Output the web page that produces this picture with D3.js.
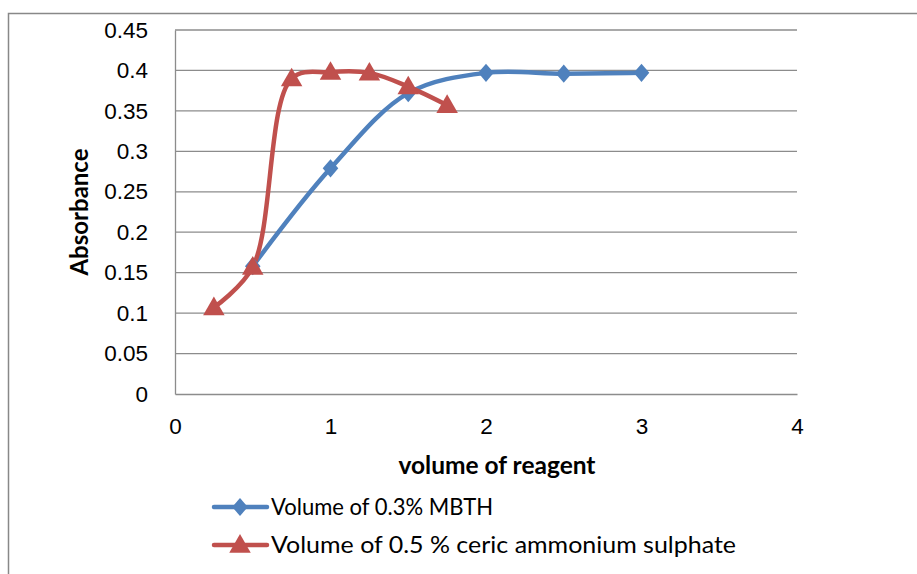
<!DOCTYPE html>
<html><head><meta charset="utf-8">
<script src="https://cdn.jsdelivr.net/npm/d3@7"></script>
<style>body{margin:0;background:#fff}</style>
</head><body>
<svg id="c" width="917" height="574"></svg>
<script>
const seriesNames = ["Volume of 0.3% MBTH", "Volume of 0.5 % ceric ammonium sulphate"];
const mbthX = [0.5, 1, 1.5, 2, 2.5, 3];
const mbthY = [0.158, 0.279, 0.372, 0.397, 0.396, 0.397];
const cericX = [0.25, 0.5, 0.75, 1, 1.25, 1.5, 1.75];
const cericY = [0.107, 0.157, 0.390, 0.398, 0.397, 0.380, 0.357];
const xTicks = [0, 1, 2, 3, 4];
const yTicks = [0, 0.05, 0.1, 0.15, 0.2, 0.25, 0.3, 0.35, 0.4, 0.45];

const svg = d3.select("#c");
const colors = ["#4F81BD", "#C0504D"];
const x = d3.scaleLinear().domain([0, 4]).range([175, 797]);
const y = d3.scaleLinear().domain([0, 0.45]).range([394, 30]);

svg.append("rect").attr("x", 8.5).attr("y", 13.5).attr("width", 920).attr("height", 580)
  .attr("fill", "none").attr("stroke", "#888").attr("stroke-width", 1.5);

// gridlines
svg.append("g").selectAll("line").data(yTicks.slice(1)).join("line")
  .attr("x1", 175).attr("x2", 797).attr("y1", d => y(d)).attr("y2", d => y(d))
  .attr("stroke", "#8c8c8c").attr("stroke-width", 1.3);

const tickFont = "'Liberation Sans', Arial, sans-serif";
// axes
const yAxis = d3.axisLeft(y).tickValues(yTicks).tickSize(0).tickPadding(27).tickFormat(d => String(+d.toFixed(2)));
const gy = svg.append("g").attr("transform", "translate(175,0)").call(yAxis);
gy.select(".domain").attr("stroke", "#8c8c8c").attr("stroke-width", 1.3);
gy.selectAll("text").style("font-family", tickFont).style("font-size", "22.5px").attr("fill", "#000");

const xAxis = d3.axisBottom(x).tickValues(xTicks).tickSize(0).tickPadding(24).tickFormat(d3.format("d"));
const gx = svg.append("g").attr("transform", "translate(0,394)").call(xAxis);
gx.select(".domain").attr("stroke", "#8c8c8c").attr("stroke-width", 1.3);
gx.selectAll("text").style("font-family", tickFont).style("font-size", "22.5px").attr("fill", "#000");

// axis titles
svg.append("text").attr("x", 497).attr("y", 474).attr("text-anchor", "middle")
  .style("font-family", "Lato, 'Open Sans', sans-serif").style("font-weight", "bold").style("font-size", "24.5px").text("volume of reagent");
svg.append("text").attr("transform", "translate(88,212) rotate(-90)").attr("text-anchor", "middle")
  .style("font-family", "Lato, 'Open Sans', sans-serif").style("font-weight", "bold").style("font-size", "24px").text("Absorbance");

const line = d3.line().x(d => x(d[0])).y(d => y(d[1])).curve(d3.curveCatmullRom.alpha(0.5));
const data = [d3.zip(mbthX, mbthY), d3.zip(cericX, cericY)];

data.forEach((pts, i) => {
  svg.append("path").attr("d", line(pts)).attr("fill", "none")
    .attr("stroke", colors[i]).attr("stroke-width", 4.5).attr("stroke-linejoin", "round");
});

const tri = d3.symbol().type(d3.symbolTriangle).size(200);

function marker(g, i, cx, cy) {
  if (i === 0) {
    g.append("path").attr("d", d3.symbol().type(d3.symbolSquare).size(150)())
      .attr("transform", `translate(${cx},${cy}) scale(0.9,1.05) rotate(45)`).attr("fill", colors[0]);
  } else {
    g.append("path").attr("d", tri()).attr("transform", `translate(${cx},${cy + 1.5})`).attr("fill", colors[1]);
  }
}
const mg = svg.append("g");
data.forEach((pts, i) => pts.forEach(p => marker(mg, i, x(p[0]), y(p[1]))));

// legend
const legendWidths = [222, 465];
const lg = svg.append("g");
seriesNames.forEach((n, i) => {
  const ly = 507 + i * 38;
  lg.append("line").attr("x1", 214).attr("x2", 267).attr("y1", ly).attr("y2", ly)
    .attr("stroke", colors[i]).attr("stroke-width", 4.5).attr("stroke-linecap", "round");
  marker(lg, i, 240, ly);
  lg.append("text").attr("x", 271).attr("y", ly + 8).style("font-family", "Lato, 'Open Sans', sans-serif")
    .style("font-size", "23.5px").attr("fill", "#000")
    .attr("textLength", legendWidths[i]).attr("lengthAdjust", "spacingAndGlyphs").text(n);
});
</script>
</body></html>
